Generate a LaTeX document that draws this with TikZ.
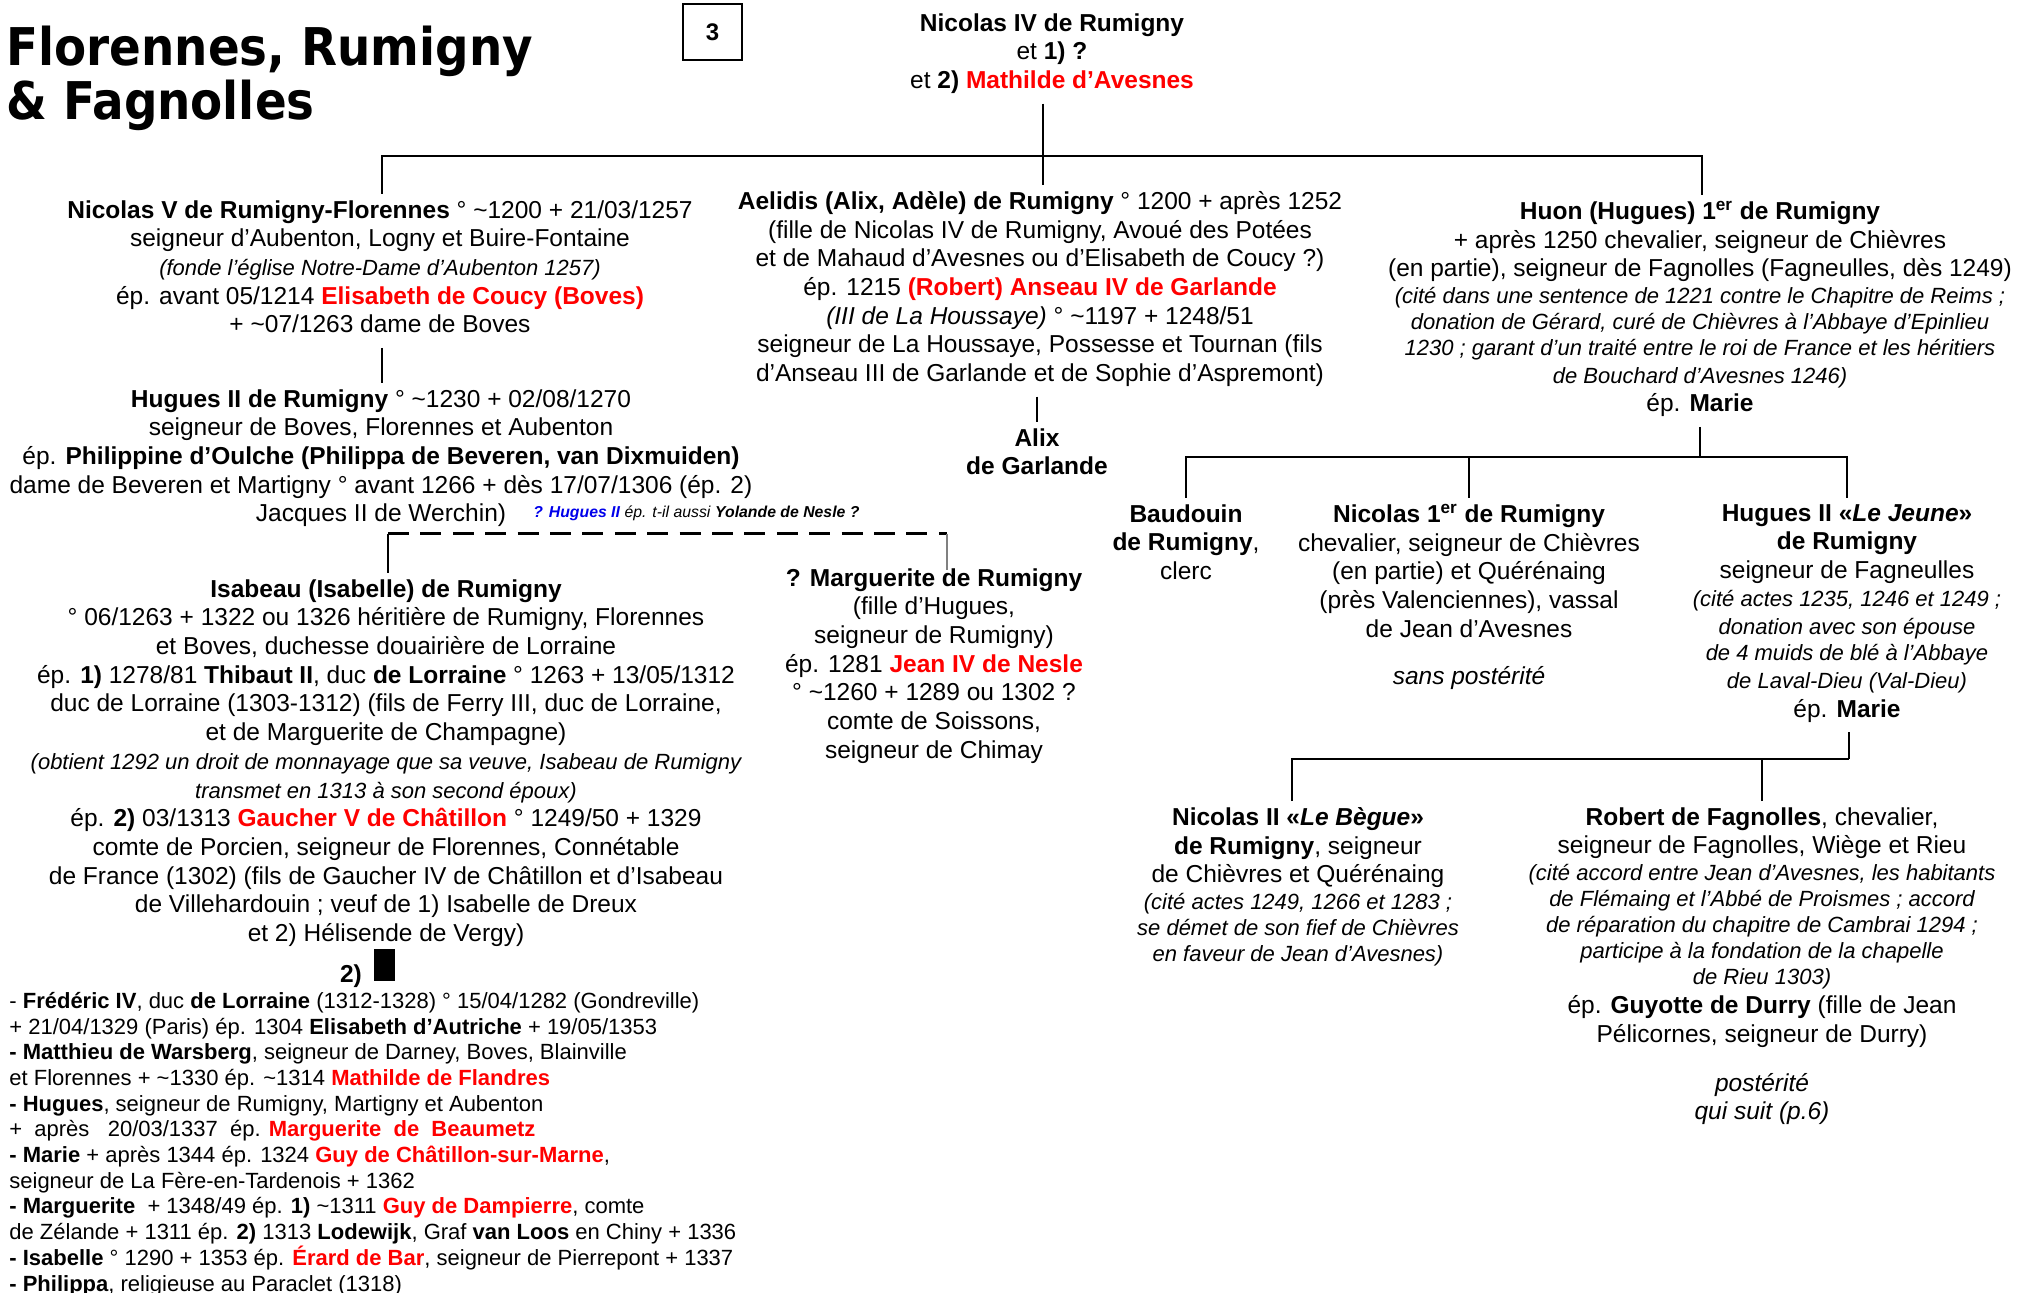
\documentclass[tikz,border=0pt]{standalone}
\usepackage{fontspec}
\setmainfont{Liberation Sans}
\newfontfamily\titrefont{DejaVu Sans Condensed}

\definecolor{nomrouge}{RGB}{255,0,0}
\definecolor{nombleu}{RGB}{0,0,235}
\newcommand{\rouge}[1]{\textcolor{nomrouge}{\textbf{#1}}}
\newcommand{\remarque}[1]{{\fontsize{11}{13}\selectfont\itshape #1}}

\tikzset{
  personne/.style={align=center, anchor=north, inner xsep=0pt, inner ysep=3pt,
    font=\fontsize{12.25}{14.35}\selectfont,
    execute at begin node=\strut, execute at end node=\strut},
  link/.style={line width=1.3pt},
}

\begin{document}
\begin{tikzpicture}[x=0.5pt, y=-0.5pt]
\fill[white] (0,0) rectangle (2017,1293);
\useasboundingbox (0,0) rectangle (2017,1293);

% titre et numero de page
\node[anchor=base west, align=left, inner sep=0pt,
  font=\titrefont\bfseries\fontsize{26}{27}\selectfont] (titre) at (6,120)
  {Florennes, Rumigny\\\& Fagnolles};
\node[draw, line width=0.6pt, minimum width=29.5pt, minimum height=28pt,
  font=\bfseries\fontsize{12}{14}\selectfont] (page) at (712.5,32) {3};

% generation 1
\node[personne] (nicIV) at (1052,7) {\textbf{Nicolas IV de Rumigny}\\
  et \textbf{1) ?}\\
  et \textbf{2)} \rouge{Mathilde d’Avesnes}};

% generation 2
\node[personne] (nicV) at (380,194) {\textbf{Nicolas V de Rumigny-Florennes} ° \textasciitilde1200 + 21/03/1257\\
  seigneur d’Aubenton, Logny et Buire-Fontaine\\
  \remarque{(fonde l’église Notre-Dame d’Aubenton 1257)}\\
  ép. avant 05/1214 \rouge{Elisabeth de Coucy (Boves)}\\
  + \textasciitilde07/1263 dame de Boves};

\node[personne] (aelidis) at (1040,185) {\textbf{Aelidis (Alix, Adèle) de Rumigny} ° 1200 + après 1252\\
  (fille de Nicolas IV de Rumigny, Avoué des Potées\\
  et de Mahaud d’Avesnes ou d’Elisabeth de Coucy ?)\\
  ép. 1215 \rouge{(Robert) Anseau IV de Garlande}\\
  \textit{(III de La Houssaye)} ° \textasciitilde1197 + 1248/51\\
  seigneur de La Houssaye, Possesse et Tournan (fils\\
  d’Anseau III de Garlande et de Sophie d’Aspremont)};

\node[personne] (huon) at (1700,195) {\textbf{Huon (Hugues) 1\textsuperscript{er} de Rumigny}\\
  + après 1250 chevalier, seigneur de Chièvres\\
  (en partie), seigneur de Fagnolles (Fagneulles, dès 1249)\\[-0.8pt]
  \remarque{(cité dans une sentence de 1221 contre le Chapitre de Reims ;}\\[-1.3pt]
  \remarque{donation de Gérard, curé de Chièvres à l’Abbaye d’Epinlieu}\\[-1.8pt]
  \remarque{1230 ; garant d’un traité entre le roi de France et les héritiers}\\
  \remarque{de Bouchard d’Avesnes 1246)}\\[-0.3pt]
  ép. \textbf{Marie}};

% generation 3
\node[personne] (hugII) at (381,383) {\textbf{Hugues II de Rumigny} ° \textasciitilde1230 + 02/08/1270\\
  seigneur de Boves, Florennes et Aubenton\\
  ép. \textbf{Philippine d’Oulche (Philippa de Beveren, van Dixmuiden)}\\
  dame de Beveren et Martigny ° avant 1266 + dès 17/07/1306 (ép. 2)\\
  Jacques II de Werchin)};

\node[personne] (alix) at (1037,422) {\textbf{Alix}\\ \textbf{de Garlande}};

\node[personne] (baudouin) at (1186,498) {\textbf{Baudouin}\\ \textbf{de Rumigny},\\ clerc};

\node[personne] (nicI) at (1469,498) {\textbf{Nicolas 1\textsuperscript{er} de Rumigny}\\
  chevalier, seigneur de Chièvres\\
  (en partie) et Quérénaing\\
  (près Valenciennes), vassal\\
  de Jean d’Avesnes\\[9.5pt]
  \textit{sans postérité}};

\node[personne] (hugJ) at (1847,498) {\textbf{Hugues II «\textit{Le Jeune}»}\\
  \textbf{de Rumigny}\\
  seigneur de Fagneulles\\[-0.5pt]
  \remarque{(cité actes 1235, 1246 et 1249 ;}\\[-0.5pt]
  \remarque{donation avec son épouse}\\[-1pt]
  \remarque{de 4 muids de blé à l’Abbaye}\\[-0.5pt]
  \remarque{de Laval-Dieu (Val-Dieu)}\\
  ép. \textbf{Marie}};

% generation 4
\node[anchor=base west, inner sep=0pt, font=\fontsize{7.9}{9}\selectfont] (doute) at (533,518)
  {\textcolor{nombleu}{\textbf{\textit{? Hugues II}}} \textit{ép. t-il aussi} \textbf{\textit{Yolande de Nesle ?}}};

\node[personne] (isabeau) at (386,573) {\textbf{Isabeau (Isabelle) de Rumigny}\\
  ° 06/1263 + 1322 ou 1326 héritière de Rumigny, Florennes\\
  et Boves, duchesse douairière de Lorraine\\
  ép. \textbf{1)} 1278/81 \textbf{Thibaut II}, duc \textbf{de Lorraine} ° 1263 + 13/05/1312\\
  duc de Lorraine (1303-1312) (fils de Ferry III, duc de Lorraine,\\
  et de Marguerite de Champagne)\\
  \remarque{(obtient 1292 un droit de monnayage que sa veuve, Isabeau de Rumigny}\\
  \remarque{transmet en 1313 à son second époux)}\\
  ép. \textbf{2)} 03/1313 \rouge{Gaucher V de Châtillon} ° 1249/50 + 1329\\
  comte de Porcien, seigneur de Florennes, Connétable\\
  de France (1302) (fils de Gaucher IV de Châtillon et d’Isabeau\\
  de Villehardouin ; veuf de 1) Isabelle de Dreux\\
  et 2) Hélisende de Vergy)};

\node[personne] (marguerite) at (934,562) {\textbf{? Marguerite de Rumigny}\\
  (fille d’Hugues,\\
  seigneur de Rumigny)\\
  ép. 1281 \rouge{Jean IV de Nesle}\\
  ° \textasciitilde1260 + 1289 ou 1302 ?\\
  comte de Soissons,\\
  seigneur de Chimay};

\node[personne] (nicII) at (1298,801) {\textbf{Nicolas II «\textit{Le Bègue}»}\\
  \textbf{de Rumigny}, seigneur\\
  de Chièvres et Quérénaing\\[-1pt]
  \remarque{(cité actes 1249, 1266 et 1283 ;}\\[-1.3pt]
  \remarque{se démet de son fief de Chièvres}\\[-1.3pt]
  \remarque{en faveur de Jean d’Avesnes)}};

\node[personne] (robert) at (1762,801) {\textbf{Robert de Fagnolles}, chevalier,\\
  seigneur de Fagnolles, Wiège et Rieu\\[-1pt]
  \remarque{(cité accord entre Jean d’Avesnes, les habitants}\\[-1.3pt]
  \remarque{de Flémaing et l’Abbé de Proismes ; accord}\\[-1.3pt]
  \remarque{de réparation du chapitre de Cambrai 1294 ;}\\[-1.3pt]
  \remarque{participe à la fondation de la chapelle}\\[-1.3pt]
  \remarque{de Rieu 1303)}\\
  ép. \textbf{Guyotte de Durry} (fille de Jean\\
  Pélicornes, seigneur de Durry)\\[10pt]
  \textit{postérité}\\
  \textit{qui suit (p.6)}};

% enfants d'Isabeau, 2e lit
\node[font=\bfseries\fontsize{12.25}{14}\selectfont, anchor=base, inner sep=0pt] (deux) at (351,982) {2)};
\fill (374,949) rectangle (395,981);
\node[anchor=base west, align=left, inner sep=0pt, font=\fontsize{11}{12.85}\selectfont] (enfants) at (9,1291) {%
  - \textbf{Frédéric IV}, duc \textbf{de Lorraine} (1312-1328) ° 15/04/1282 (Gondreville)\\
  + 21/04/1329 (Paris) ép. 1304 \textbf{Elisabeth d’Autriche} + 19/05/1353\\
  \textbf{- Matthieu de Warsberg}, seigneur de Darney, Boves, Blainville\\
  et Florennes + \textasciitilde1330 ép. \textasciitilde1314 \rouge{Mathilde de Flandres}\\
  \textbf{- Hugues}, seigneur de Rumigny, Martigny et Aubenton\\
  + \ après \ \ 20/03/1337 \ ép. \rouge{Marguerite \ de \ Beaumetz}\\
  \textbf{- Marie} + après 1344 ép. 1324 \rouge{Guy de Châtillon-sur-Marne},\\
  seigneur de La Fère-en-Tardenois + 1362\\
  \textbf{- Marguerite} \ + 1348/49 ép. \textbf{1)} \textasciitilde1311 \rouge{Guy de Dampierre}, comte\\
  de Zélande + 1311 ép. \textbf{2)} 1313 \textbf{Lodewijk}, Graf \textbf{van Loos} en Chiny + 1336\\
  \textbf{- Isabelle} ° 1290 + 1353 ép. \rouge{Érard de Bar}, seigneur de Pierrepont + 1337\\
  \textbf{- Philippa}, religieuse au Paraclet (1318)};

% traits de filiation
\coordinate (top) at (1043,156);
\coordinate (barL) at (382,156);
\coordinate (barR) at (1702,156);
\draw[link] (nicIV.south -| top) -- (aelidis.north -| top);
\draw[link] (nicV.north -| barL) -- (barL) -- (barR) -- (huon.north -| barR);
\draw[link] (nicV.south -| barL) -- (hugII.north -| barL);
\draw[link] (aelidis.south -| alix) -- (alix.north);

\coordinate (hook) at (388,534);
\coordinate (hookR) at (947,534);
\draw[link] (hook) -- (isabeau.north -| hook);
\draw[line width=1.5pt, dash pattern=on 10.5pt off 5.7pt] (hook) -- (hookR);
\draw[line width=0.7pt, gray, shorten >=-4pt] (hookR) -- (marguerite.north -| hookR);

\coordinate (hb) at (1700,457);
\draw[link] (huon.south -| hb) -- (hb);
\draw[link] (baudouin.north) |- (hb) -| (hugJ.north);
\draw[link] (nicI.north) -- (nicI.north |- hb);

\coordinate (jb) at (1849,759);
\coordinate (jL) at (1292,759);
\draw[link] (hugJ.south -| jb) -- (jb);
\draw[link] (nicII.north -| jL) -- (jL) -- (jb);
\draw[link] (robert.north) -- (robert.north |- jb);
\end{tikzpicture}
\end{document}
